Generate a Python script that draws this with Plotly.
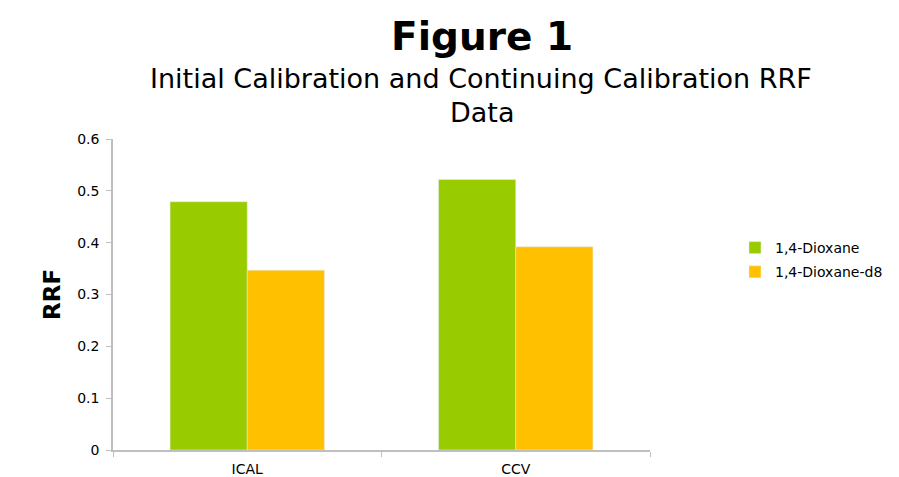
import plotly.graph_objects as go

categories = ["ICAL", "CCV"]
dioxane = [0.479, 0.522]
dioxane_d8 = [0.347, 0.392]
y_ticks = [0, 0.1, 0.2, 0.3, 0.4, 0.5, 0.6]
y_tick_labels = ["0", "0.1", "0.2", "0.3", "0.4", "0.5", "0.6"]

FONT = "DejaVu Sans, Arial, sans-serif"
W, H = 899, 477
L, R, T, B = 113, 249, 139, 27
pw, ph = W - L - R, H - T - B


def px_x(x):
    return (x - L) / pw


def px_y(y):
    return (H - y - B) / ph


fig = go.Figure()
fig.add_trace(go.Bar(x=categories, y=dioxane, name="1,4-Dioxane",
                     marker_color="#99CC00", legendgroup="a"))
fig.add_trace(go.Bar(x=categories, y=dioxane_d8, name="1,4-Dioxane-d8",
                     marker_color="#FFC000", legendgroup="b"))

fig.update_layout(
    width=W, height=H,
    margin=dict(l=L, r=R, t=T, b=B, autoexpand=False),
    paper_bgcolor="white", plot_bgcolor="white",
    barmode="group", bargap=0.425, bargroupgap=0,
    font=dict(family=FONT, color="#000000"),
    showlegend=True,
    legend=dict(x=px_x(735), y=px_y(232), xanchor="left", yanchor="top",
                font=dict(size=14, family=FONT), tracegroupgap=3,
                itemwidth=30),
    annotations=[
        dict(text="<b>Figure 1</b>", x=px_x(482), y=px_y(36),
             xref="paper", yref="paper", xanchor="center", yanchor="middle",
             showarrow=False, font=dict(size=39, family=FONT)),
        dict(text="Initial Calibration and Continuing Calibration RRF",
             x=px_x(481), y=px_y(79),
             xref="paper", yref="paper", xanchor="center", yanchor="middle",
             showarrow=False, font=dict(size=27, family=FONT)),
        dict(text="Data", x=px_x(482), y=px_y(112),
             xref="paper", yref="paper", xanchor="center", yanchor="middle",
             showarrow=False, font=dict(size=27, family=FONT)),
        dict(text="<b>RRF</b>", x=px_x(52), y=px_y(295), textangle=-90,
             xref="paper", yref="paper", xanchor="center", yanchor="middle",
             showarrow=False, font=dict(size=23, family=FONT)),
    ],
)

fig.update_xaxes(
    showline=True, linecolor="#BFBFBF", linewidth=2,
    ticks="outside", tickson="boundaries", ticklen=5, tickcolor="#BFBFBF",
    tickfont=dict(size=14, family=FONT), showgrid=False,
    ticklabelstandoff=5, automargin=False,
)
fig.update_yaxes(
    range=[0, 0.6], tickvals=y_ticks, ticktext=y_tick_labels,
    showline=True, linecolor="#BFBFBF", linewidth=1.5,
    ticks="outside", ticklen=5, tickcolor="#BFBFBF",
    tickfont=dict(size=14, family=FONT), showgrid=False, zeroline=False,
    ticklabelstandoff=4, automargin=False,
)

fig.write_html("out.html")
